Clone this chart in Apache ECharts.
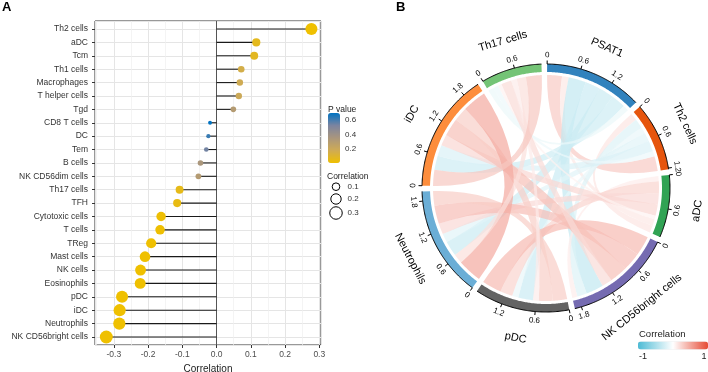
<!DOCTYPE html>
<html><head><meta charset="utf-8">
<script src="https://cdn.jsdelivr.net/npm/echarts@6/dist/echarts.min.js"></script>
<style>html,body{margin:0;padding:0;background:#fff}#c{width:708px;height:372px}</style>
</head><body><div id="c"></div>
<script>
// ---------- Panel A data ----------
const cells = ['Th2 cells','aDC','Tcm','Th1 cells','Macrophages','T helper cells','Tgd','CD8 T cells','DC','Tem','B cells','NK CD56dim cells','Th17 cells','TFH','Cytotoxic cells','T cells','TReg','Mast cells','NK cells','Eosinophils','pDC','iDC','Neutrophils','NK CD56bright cells'];
const correlation = [0.277,0.116,0.110,0.072,0.068,0.065,0.049,-0.019,-0.024,-0.030,-0.047,-0.053,-0.108,-0.115,-0.162,-0.165,-0.191,-0.209,-0.222,-0.223,-0.276,-0.283,-0.284,-0.322];
const pValue = [0.001,0.06,0.07,0.15,0.17,0.19,0.30,0.69,0.61,0.53,0.34,0.30,0.05,0.04,0.006,0.005,0.002,0.001,0.001,0.001,0.0005,0.0004,0.0004,0.0001];
const minorXTicks = [-0.35,-0.25,-0.15,-0.05,0.05,0.15,0.25];
const pLegendTicks = [0.2,0.4,0.6];
const sizeLegendValues = [0.1,0.2,0.3];

// ---------- Panel B data ----------
const chordNodes = ['PSAT1','Th2 cells','aDC','NK CD56bright cells','pDC','Neutrophils','iDC','Th17 cells'];
const chordCorr = [
  [0, 0.29, 0.13, -0.34, -0.29, -0.30, -0.28, -0.11],
  [0.29, 0, 0.14, -0.19, -0.12, -0.17, -0.21, -0.10],
  [0.13, 0.14, 0, 0.10, 0.24, 0.21, 0.22, 0.07],
  [-0.34, -0.19, 0.10, 0, 0.38, 0.36, 0.35, 0.20],
  [-0.29, -0.12, 0.24, 0.38, 0, 0.28, 0.27, 0.11],
  [-0.30, -0.17, 0.21, 0.36, 0.28, 0, 0.47, 0.18],
  [-0.28, -0.21, 0.22, 0.35, 0.27, 0.47, 0, 0.31],
  [-0.11, -0.10, 0.07, 0.20, 0.11, 0.18, 0.31, 0]
];
const chordTicks = [0, 0.6, 1.2, 1.8];

// ---------- styles ----------
const FONT = "'Liberation Sans', Arial, sans-serif";
const sectorPalette = ['#3182BD','#E6550D','#31A354','#756BB1','#636363','#6BAED6','#FD8D3C','#74C476'];
const pColors = ['#EFC000','#CFAB54','#AA967D','#7B84A0','#0073C2'];
const corrColors = ['#4DBBD5','#FFFFFF','#E64B35'];
const sizeOf = v => 1 + 21 * Math.sqrt(Math.abs(v));

// ---------- chord layout built from data ----------
const n = chordNodes.length;
const GAP = 0.1, START = 0.02;
const sizes = chordCorr.map(r => r.reduce((s, v) => s + Math.abs(v), 0));
const offsets = []; let cur = START;
for (let i = 0; i < n; i++) { offsets.push(cur); cur += sizes[i] + GAP; }
const totalUnits = sizes.reduce((a, b) => a + b, 0) + n * GAP;
const seg = chordNodes.map(() => []);
for (let i = 0; i < n; i++) {
  let p = offsets[i];
  for (let k = 1; k < n; k++) { const j = (i + k) % n; const w = Math.abs(chordCorr[i][j]); seg[i][j] = [p, p + w]; p += w; }
}
const linkData = [];
for (let i = 0; i < n; i++) for (let j = i + 1; j < n; j++)
  linkData.push([chordCorr[i][j], seg[i][j][0], seg[i][j][1], seg[j][i][0], seg[j][i][1]]);
const sectorData = chordNodes.map((_, i) => [i, offsets[i], offsets[i] + sizes[i]]);

const R_OUT = 124, R_IN = 116, R_LINK = 113, R_TICKLAB = 133, R_NAME = 153;
function arc(api, r, u0, u1) {
  const steps = Math.max(2, Math.ceil((u1 - u0) / 0.02));
  const pts = [];
  for (let s = 0; s <= steps; s++) pts.push(api.coord([r, u0 + (u1 - u0) * s / steps]));
  return pts;
}
function textAt(api, c, r, u, txt, size) {
  const p = api.coord([r, u]);
  const th = Math.atan2(p[0] - c[0], -(p[1] - c[1]));
  const rot = Math.cos(th) >= 0 ? -th : -(th + Math.PI);
  return { type: 'text', x: p[0], y: p[1], rotation: rot,
    style: { text: txt, fontSize: size, fill: '#000', align: 'center', verticalAlign: 'middle', fontFamily: FONT } };
}
function renderLink(params, api) {
  const c = api.coord([0, 0]);
  const a = arc(api, R_LINK, api.value(1), api.value(2));
  const b = arc(api, R_LINK, api.value(3), api.value(4));
  let d = 'M' + a[0][0] + ' ' + a[0][1];
  for (let k = 1; k < a.length; k++) d += 'L' + a[k][0] + ' ' + a[k][1];
  d += 'Q' + c[0] + ' ' + c[1] + ' ' + b[0][0] + ' ' + b[0][1];
  for (let k = 1; k < b.length; k++) d += 'L' + b[k][0] + ' ' + b[k][1];
  d += 'Q' + c[0] + ' ' + c[1] + ' ' + a[0][0] + ' ' + a[0][1] + 'Z';
  return { type: 'path', shape: { pathData: d }, style: { fill: api.visual('color'), opacity: 0.7 } };
}
function renderSector(params, api) {
  const i = api.value(0), u0 = api.value(1), u1 = api.value(2);
  const c = api.coord([0, 0]);
  const outer = arc(api, R_OUT, u0, u1);
  const inner = arc(api, R_IN, u0, u1).reverse();
  const children = [
    { type: 'polygon', shape: { points: outer.concat(inner) }, style: { fill: sectorPalette[i] } },
    { type: 'polyline', shape: { points: outer }, style: { stroke: '#000', lineWidth: 1, fill: null } }
  ];
  chordTicks.forEach(t => {
    if (t <= u1 - u0 + 1e-6) {
      const p1 = api.coord([R_OUT, u0 + t]), p2 = api.coord([R_OUT + 3.5, u0 + t]);
      children.push({ type: 'line', shape: { x1: p1[0], y1: p1[1], x2: p2[0], y2: p2[1] }, style: { stroke: '#000', lineWidth: 1 } });
      children.push(textAt(api, c, R_TICKLAB, u0 + t, t === 0 ? '0' : t.toFixed(1), 8));
    }
  });
  children.push(textAt(api, c, R_NAME, (u0 + u1) / 2, chordNodes[i], 11));
  return { type: 'group', children };
}

// ---------- legends (text + size circles) ----------
const graphics = [
  { type: 'text', left: 2, top: 1, style: { text: 'A', fontSize: 13, fontWeight: 'bold', fill: '#000', fontFamily: FONT } },
  { type: 'text', left: 396, top: 1, style: { text: 'B', fontSize: 13, fontWeight: 'bold', fill: '#000', fontFamily: FONT } },
  { type: 'text', x: 328, y: 109.5, style: { text: 'P value', fontSize: 8.5, fill: '#222', fontFamily: FONT, verticalAlign: 'middle' } },
  { type: 'text', x: 327, y: 177, style: { text: 'Correlation', fontSize: 8.5, fill: '#222', fontFamily: FONT, verticalAlign: 'middle' } },
  { type: 'text', x: 639, y: 334, style: { text: 'Correlation', fontSize: 9.5, fill: '#222', fontFamily: FONT, verticalAlign: 'middle' } },
  { type: 'text', x: 643, y: 357, style: { text: '-1', fontSize: 9, fill: '#222', fontFamily: FONT, align: 'center', verticalAlign: 'middle' } },
  { type: 'text', x: 704, y: 357, style: { text: '1', fontSize: 9, fill: '#222', fontFamily: FONT, align: 'center', verticalAlign: 'middle' } }
];
pLegendTicks.forEach(t => graphics.push({ type: 'text', x: 345, y: 163.3 - (t / 0.69) * 50, style: { text: t.toFixed(1), fontSize: 8, fill: '#333', fontFamily: FONT, verticalAlign: 'middle' } }));
const sizeY = [186.7, 199, 213];
sizeLegendValues.forEach((v, k) => {
  graphics.push({ type: 'circle', shape: { cx: 336, cy: sizeY[k], r: sizeOf(v) / 2 }, style: { fill: '#fff', stroke: '#000', lineWidth: 1 } });
  graphics.push({ type: 'text', x: 347.5, y: sizeY[k], style: { text: v.toFixed(1), fontSize: 8, fill: '#333', fontFamily: FONT, verticalAlign: 'middle' } });
});

const chart = echarts.init(document.getElementById('c'), null, { renderer: 'canvas' });
chart.setOption({
  animation: false,
  textStyle: { fontFamily: FONT },
  grid: { left: 95, top: 21, width: 226, height: 324, show: true, borderColor: '#333', borderWidth: 1,
    backgroundColor: 'transparent', containLabel: false, outerBoundsMode: 'none' },
  xAxis: {
    type: 'value', min: -0.355, max: 0.305, position: 'bottom',
    name: 'Correlation', nameLocation: 'middle', nameGap: 17,
    nameTextStyle: { fontSize: 10, color: '#222', fontFamily: FONT },
    axisLine: { show: false, onZero: false },
    axisTick: { show: true, length: 3, lineStyle: { color: '#333' } },
    axisLabel: { fontSize: 8.5, color: '#4D4D4D', margin: 5, showMinLabel: false, showMaxLabel: false,
      formatter: v => (Math.abs(v * 10 - Math.round(v * 10)) < 1e-6 ? v.toFixed(1) : '') },
    splitLine: { show: true, lineStyle: { color: '#E5E5E5', width: 1 } }
  },
  yAxis: {
    type: 'value', min: -0.6, max: 23.6, inverse: true, splitNumber: 24, position: 'left',
    axisLine: { show: false, onZero: false },
    axisTick: { show: true, length: 3, lineStyle: { color: '#333' } },
    axisLabel: { fontSize: 8.5, color: '#333', margin: 7, showMinLabel: false, showMaxLabel: false,
      formatter: v => (Number.isInteger(v) && cells[v] !== undefined ? cells[v] : '') },
    splitLine: { show: true, lineStyle: { color: '#E5E5E5', width: 1 } }
  },
  polar: { center: [546, 188], radius: R_OUT },
  angleAxis: { type: 'value', min: 0, max: totalUnits, startAngle: 90, clockwise: true, show: false },
  radiusAxis: { type: 'value', min: 0, max: R_OUT, show: false },
  visualMap: [
    { type: 'continuous', seriesIndex: 1, dimension: 2, min: 0, max: 0.69, calculable: false,
      orient: 'vertical', left: 328, top: 113, itemWidth: 12, itemHeight: 50, padding: 0, text: null,
      inRange: { color: pColors }, textStyle: { fontSize: 0 } },
    { type: 'continuous', seriesIndex: 2, dimension: 0, min: -1, max: 1, calculable: false,
      orient: 'horizontal', left: 638, top: 341.5, itemWidth: 8, itemHeight: 70, padding: 0, text: null,
      inRange: { color: corrColors }, textStyle: { fontSize: 0 } }
  ],
  series: [
    {
      type: 'custom', name: 'sticks', coordinateSystem: 'cartesian2d', z: 2,
      data: correlation.map((v, i) => [v, i]),
      renderItem: (params, api) => {
        const p0 = api.coord([0, api.value(1)]), p1 = api.coord([api.value(0), api.value(1)]);
        return { type: 'line', shape: { x1: p0[0], y1: p0[1], x2: p1[0], y2: p1[1] }, style: { stroke: '#1a1a1a', lineWidth: 1.1 } };
      },
      markLine: {
        silent: true, symbol: 'none', label: { show: false }, z: 1,
        data: minorXTicks.map(x => ({ xAxis: x, lineStyle: { color: '#EFEFEF', width: 0.7, type: 'solid' } }))
          .concat([{ xAxis: 0, lineStyle: { color: '#555', width: 1, type: 'solid' } }])
      }
    },
    {
      type: 'scatter', name: 'points', z: 3,
      data: correlation.map((v, i) => [v, i, pValue[i]]),
      symbol: 'circle', symbolSize: v => sizeOf(v[0]),
      itemStyle: { opacity: 1 }
    },
    {
      type: 'custom', name: 'links', coordinateSystem: 'polar', z: 1,
      data: linkData, renderItem: renderLink
    },
    {
      type: 'custom', name: 'sectors', coordinateSystem: 'polar', z: 2,
      data: sectorData, renderItem: renderSector
    }
  ],
  graphic: graphics
});
</script></body></html>
